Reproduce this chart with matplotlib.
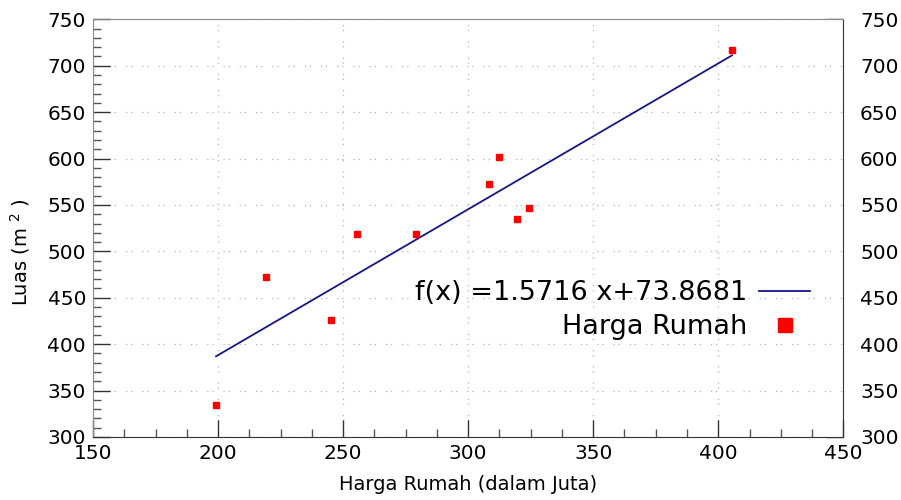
import matplotlib
matplotlib.use("Agg")
import matplotlib.pyplot as plt
import numpy as np
from matplotlib.ticker import MultipleLocator, AutoMinorLocator

harga = [199.2, 219.2, 245.3, 255.6, 279.2, 308.5, 312.2, 319.4, 324.2, 405.5]
luas = [334.8, 472.7, 426.1, 518.4, 518.4, 572.6, 602.0, 534.9, 547.0, 716.9]
slope = 1.5716
intercept = 73.8681
fit_label = "f(x) =1.5716 x+73.8681"
series_label = "Harga Rumah"

fig = plt.figure(figsize=(9.01, 5.0), dpi=100)
ax = fig.add_axes([0.1032, 0.126, 0.936 - 0.1032, 0.9614 - 0.126])

xs = np.array([min(harga), max(harga)])
ax.plot(xs, slope * xs + intercept, color="#14148c", lw=1.3, label=fit_label, zorder=3)
ax.plot(harga, luas, linestyle="none", marker="s", ms=4.5, color="#ff0000",
        mec="#ff0000", label=series_label, zorder=4)

ax.set_xlim(150, 450)
ax.set_ylim(300, 750)
ax.xaxis.set_major_locator(MultipleLocator(50))
ax.xaxis.set_minor_locator(AutoMinorLocator(4))
ax.yaxis.set_major_locator(MultipleLocator(50))
ax.yaxis.set_minor_locator(AutoMinorLocator(5))

ax.grid(True, which="major", color="#b4b4b4", linestyle=(0, (1, 3, 1, 8)), linewidth=0.9)

for s in ["top", "left"]:
    ax.spines[s].set_color("#888888")
for s in ["bottom", "right"]:
    ax.spines[s].set_color("#333333")

ax.tick_params(axis="both", which="major", direction="in", length=12, width=1,
               color="#333333", labelsize=14.5)
ax.tick_params(axis="both", which="minor", direction="in", length=6, width=1,
               color="#555555")
ax.tick_params(axis="x", which="both", top=False)
ax.tick_params(axis="y", which="both", right=False)
ax.tick_params(axis="y", which="major", pad=5)
ax.tick_params(axis="x", which="major", pad=5)

ax2 = ax.twinx()
ax2.set_ylim(ax.get_ylim())
ax2.yaxis.set_major_locator(MultipleLocator(50))
ax2.tick_params(axis="y", which="major", direction="in", length=12, width=1,
                color="#333333", labelsize=14.5, pad=12)
ax2.tick_params(axis="y", which="minor", right=False)
for s in ax2.spines.values():
    s.set_visible(False)

ax.set_xlabel("Harga Rumah (dalam Juta)", fontsize=14, labelpad=9)
ax.set_ylabel("Luas (m $^{2}$ )", fontsize=14)
ax.yaxis.set_label_coords(-0.081, 0.442)

leg = ax.legend(loc="upper right", bbox_to_anchor=(0.956, 0.375), frameon=False,
                markerfirst=False, fontsize=19.5, markerscale=2.2,
                handlelength=1.9, handletextpad=0.42, labelspacing=0.3,
                borderpad=0, borderaxespad=0)
ax.set_zorder(ax2.get_zorder() + 1)
ax.patch.set_visible(True)
ax2.patch.set_visible(False)

fig.savefig("out.png", dpi=100)
